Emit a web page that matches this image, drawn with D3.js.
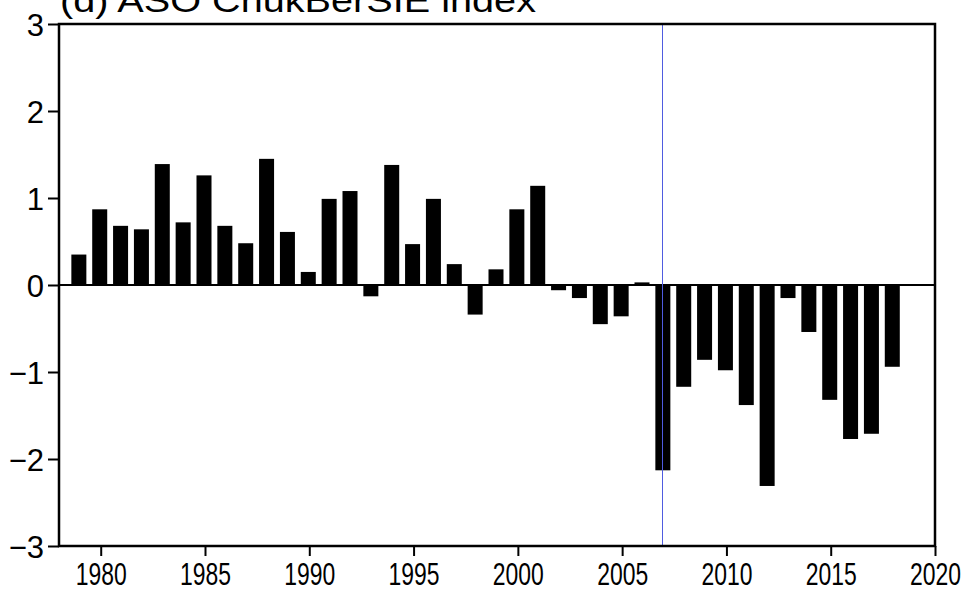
<!DOCTYPE html>
<html><head><meta charset="utf-8">
<script src="https://cdn.jsdelivr.net/npm/d3@7"></script>
<style>body{margin:0;background:#fff}svg{display:block}</style>
</head><body>
<svg id="c" width="971" height="591"></svg>
<script>
const years = d3.range(1979, 2019);
const values = [0.35,0.87,0.68,0.64,1.39,0.72,1.26,0.68,0.48,1.45,0.61,0.15,0.99,1.08,-0.13,1.38,0.47,0.99,0.24,-0.34,0.18,0.87,1.14,-0.06,-0.15,-0.45,-0.36,0.03,-2.13,-1.17,-0.86,-0.98,-1.38,-2.31,-0.15,-0.54,-1.32,-1.77,-1.71,-0.94];
const yTicks = [-3,-2,-1,0,1,2,3];
const xTicks = [1980,1985,1990,1995,2000,2005,2010,2015,2020];
const title = "(d) ASO ChukBerSIE index";
const markYear = 2007;

const svg = d3.select("#c");
const L=59,R=935,T=24,B=546;
const x = d3.scaleLinear().domain([1978,2020]).range([L,R]);
const y = d3.scaleLinear().domain([-3,3]).range([B,T]);
const bw = 15;

svg.append("g").selectAll("rect").data(years).join("rect")
  .attr("x",(d)=>x(d)-bw/2-1)
  .attr("width",bw)
  .attr("y",(d,i)=>Math.min(y(values[i]),y(0)))
  .attr("height",(d,i)=>Math.abs(y(values[i])-y(0)))
  .attr("fill","#000");

svg.append("line").attr("x1",L).attr("x2",R).attr("y1",y(0)).attr("y2",y(0))
  .attr("stroke","#000").attr("stroke-width",2);

const mx = Math.floor(x(markYear))-0.5;
svg.append("line").attr("x1",mx).attr("x2",mx).attr("y1",T).attr("y2",B)
  .attr("stroke","#4f5ce0").attr("stroke-width",1);

svg.append("rect").attr("x",L).attr("y",T).attr("width",R-L).attr("height",B-T)
  .attr("fill","none").attr("stroke","#000").attr("stroke-width",2.5);

const ya = svg.append("g").attr("transform",`translate(${L},0)`)
  .call(d3.axisLeft(y).tickValues(yTicks).tickSize(11).tickPadding(4).tickFormat(d=>d<0?"\u2212"+Math.abs(d):d));
ya.select(".domain").remove();
ya.selectAll("line").attr("stroke","#000").attr("stroke-width",2);
ya.selectAll("text").attr("font-family","Liberation Sans, Arial, sans-serif").attr("font-size",31).attr("fill","#000").attr("dy","0.36em");

const xa = svg.append("g").attr("transform",`translate(0,${B})`)
  .call(d3.axisBottom(x).tickValues(xTicks).tickSize(10).tickPadding(7).tickFormat(d3.format("d")));
xa.select(".domain").remove();
xa.selectAll("line").attr("stroke","#000").attr("stroke-width",2);
xa.selectAll("text").attr("font-family","Liberation Sans, Arial, sans-serif").attr("font-size",31).attr("fill","#000")
  .attr("textLength",51).attr("lengthAdjust","spacingAndGlyphs").attr("dy","0.71em");

svg.append("text").attr("x",60).attr("y",12).text(title)
  .attr("font-family","Liberation Sans, Arial, sans-serif").attr("font-size",33).attr("fill","#000")
  .attr("textLength",476).attr("lengthAdjust","spacingAndGlyphs");
</script>
</body></html>
